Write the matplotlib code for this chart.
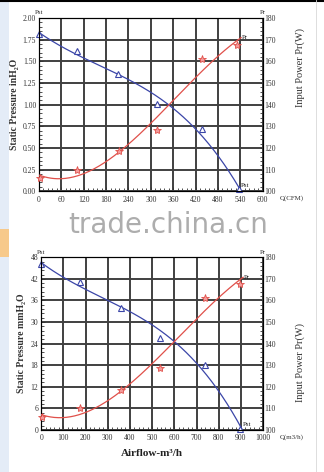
#!/usr/bin/env python

import matplotlib
matplotlib.use('Agg')
import matplotlib.pyplot as plt
import numpy as np
from matplotlib.patches import Rectangle
from matplotlib.lines import Line2D

# top chart: Q in CFM, static pressure in inH2O, input power in W
cfmPstQ = [1, 103, 213, 316, 438, 535]
cfmPst = [1.81, 1.62, 1.35, 1.01, 0.72, 0.02]
cfmPrQ = [3, 103, 215, 316, 437, 532]
cfmPr = [106.0, 110.0, 118.4, 128.4, 161.2, 167.6]

# bottom chart: Q in m3/h, static pressure in mmH2O, input power in W
m3hPstQ = [0, 177, 361, 536, 738, 898]
m3hPst = [46.0, 41.1, 34.0, 25.6, 18.1, 0.2]
m3hPrQ = [3, 174, 361, 536, 738, 898]
m3hPr = [105.8, 110.0, 118.5, 128.5, 161.2, 167.7]

SERIF = ['Liberation Serif', 'DejaVu Serif']
BLUE = '#3b46a8'
RED = '#e0504a'


def fitCurve(q, v, qMax, deg=3):
    coef = np.polyfit(q, v, deg)
    qs = np.linspace(0, qMax, 200)
    return qs, np.polyval(coef, qs)


def drawChart(fig, rect, pstQ, pst, prQ, pr, xMax, xStep, yMax, yStep,
              yFmt, xName, yName, qEnd, prLabelY):
    ax = fig.add_axes(rect)
    ax.set_xlim(0, xMax)
    ax.set_ylim(0, yMax)
    ax.set_xticks(np.arange(0, xMax + 1e-9, xStep))
    ax.set_yticks(np.arange(0, yMax + 1e-9, yStep))
    ax.set_yticklabels([yFmt.format(v) for v in np.arange(0, yMax + 1e-9, yStep)])
    ax.set_xticks(np.arange(0, xMax + 1e-9, xStep / 5), minor=True)
    ax.set_yticks(np.arange(0, yMax + 1e-9, yStep / 5), minor=True)
    ax.grid(True, which='major', color='#404040', linewidth=1.4)
    ax.tick_params(which='both', direction='in', length=2, width=0.6,
                   labelsize=5.5, pad=2, colors='#333333')
    ax.tick_params(which='major', length=3)
    ax.tick_params(axis='x', pad=3.2)
    for lbl in ax.get_xticklabels() + ax.get_yticklabels():
        lbl.set_family(SERIF)
    for s in ax.spines.values():
        s.set_linewidth(0.8)
        s.set_color('#222222')

    ax2 = ax.twinx()
    ax2.set_ylim(100, 180)
    ax2.set_yticks(np.arange(100, 181, 10))
    ax2.set_yticks(np.arange(100, 181, 2), minor=True)
    ax2.tick_params(which='both', direction='in', length=2, width=0.6,
                    labelsize=5.5, pad=1, colors='#333333')
    for lbl in ax2.get_yticklabels():
        lbl.set_family(SERIF)

    # fitted curves
    qs, ps = fitCurve(pstQ, pst, qEnd)
    ax.plot(qs, ps, color=BLUE, linewidth=0.9, zorder=3)
    qs, ws = fitCurve(prQ, pr, qEnd)
    ax2.plot(qs, ws, color=RED, linewidth=0.9, zorder=3)

    # measured points
    ax.plot(pstQ, pst, linestyle='none', marker='^', markersize=5,
            markerfacecolor='white', markeredgecolor=BLUE, markeredgewidth=0.8,
            zorder=4, clip_on=False)
    ax2.plot(prQ, pr, linestyle='none', marker='*', markersize=6,
             markerfacecolor='#f39a9a', markeredgecolor=RED, markeredgewidth=0.6,
             zorder=4, clip_on=False)

    ax2.text(qEnd + xMax * 0.005, ws[-1], 'Pr', fontsize=5, family=SERIF,
             color='#222222', va='center', ha='left')
    ax.text(pstQ[-1] + xMax * 0.01, yMax * 0.02, 'Pst', fontsize=5,
            family=SERIF, color='#222222', va='bottom', ha='left')

    ax.text(0, 1.015, 'Pst', transform=ax.transAxes, fontsize=5,
            family=SERIF, ha='center', va='bottom', color='#333333')
    ax.text(1, 1.015, 'Pr', transform=ax.transAxes, fontsize=5,
            family=SERIF, ha='center', va='bottom', color='#333333')
    ax.text(1.075, -0.04, xName, transform=ax.transAxes, fontsize=5,
            family=SERIF, ha='left', va='center', color='#333333')

    ax.set_ylabel(yName, fontsize=7, family=SERIF, fontweight='bold',
                  labelpad=3, color='#333333')
    fig.text(rect[0] + rect[2] + 0.115, prLabelY,
             'Input Power Pr(W)', rotation=90, fontsize=7.5, family=SERIF,
             ha='center', va='center', color='#333333')
    return ax


def main():
    fig = plt.figure(figsize=(3.24, 4.72), dpi=100)

    # page background bits of the screenshot
    fig.add_artist(Rectangle((0, 0), 0.028, 1, transform=fig.transFigure,
                             facecolor='#e4ecf7', edgecolor='none', zorder=0))
    fig.add_artist(Rectangle((0, 0.455), 0.028, 0.06, transform=fig.transFigure,
                             facecolor='#f7c98a', edgecolor='none', zorder=0))
    fig.add_artist(Line2D([0, 1], [0.998, 0.998], transform=fig.transFigure,
                          color='black', linewidth=1.5))
    fig.add_artist(Line2D([0.975, 0.975], [0, 1], transform=fig.transFigure,
                          color='#d8d8d8', linewidth=0.6))

    drawChart(fig, [0.120, 0.595, 0.691, 0.367], cfmPstQ, cfmPst, cfmPrQ, cfmPr,
              600, 60, 2.0, 0.25, '{:.2f}', 'Q(CFM)', 'Static Pressure inH\u2082O',
              542, 0.858)

    drawChart(fig, [0.127, 0.089, 0.685, 0.366], m3hPstQ, m3hPst, m3hPrQ, m3hPr,
              1000, 100, 48, 6, '{:.0f}', 'Q(m3/h)', 'Static Pressure mmH\u2082O',
              910, 0.231)
    fig.text(0.47, 0.04, 'Airflow-m\u00b3/h', fontsize=8, family=SERIF,
             fontweight='bold', ha='center', va='center', color='#222222')

    fig.text(0.52, 0.523, 'trade.china.cn', fontsize=20, color='#999999',
             alpha=0.8, ha='center', va='center')

    fig.savefig('out.png', dpi=100)


if __name__ == '__main__':
    main()
